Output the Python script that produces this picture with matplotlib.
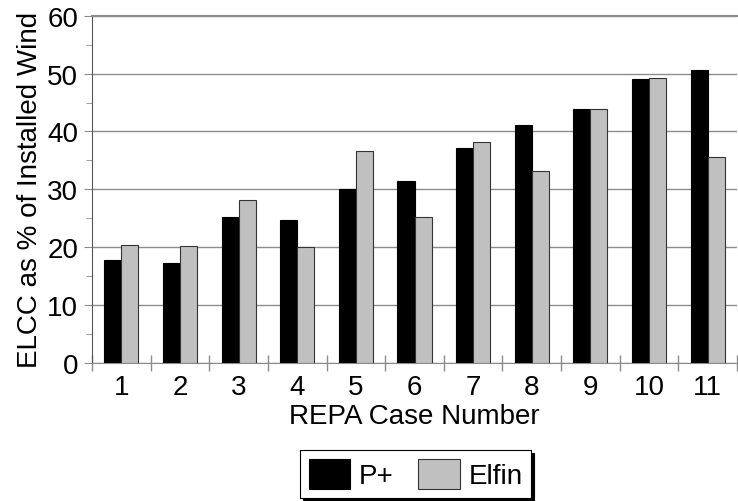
import matplotlib
matplotlib.use("Agg")
import matplotlib.pyplot as plt
import numpy as np

plt.rcParams['font.family'] = ['Liberation Sans', 'DejaVu Sans']

cases = ['1', '2', '3', '4', '5', '6', '7', '8', '9', '10', '11']
p_plus = [17.8, 17.2, 25.3, 24.7, 30.1, 31.4, 37.1, 41.2, 43.9, 49.0, 50.6]
elfin = [20.4, 20.2, 28.1, 20.1, 36.7, 25.3, 38.1, 33.2, 43.9, 49.3, 35.6]

FS = 20

fig = plt.figure(figsize=(7.38, 5.02), dpi=100)
ax = fig.add_axes([92/738, 1-364/502, (737-92)/738, (364-16.7)/502])

x = np.arange(len(cases))
w = 0.29
ax.bar(x - w/2, p_plus, w, color='black', edgecolor='black', linewidth=0.8, label='P+', zorder=3)
ax.bar(x + w/2, elfin, w, color='#c0c0c0', edgecolor='#333333', linewidth=0.8, label='Elfin', zorder=3)

ax.set_xlim(-0.5, len(cases) - 0.5)
ax.set_ylim(0, 60)
ax.set_yticks(np.arange(0, 61, 10))
ax.set_yticks(np.arange(5, 60, 10), minor=True)
ax.yaxis.grid(True, which='major', color='#8c8c8c', linewidth=1.0, zorder=0)
ax.set_axisbelow(True)

ax.set_xticks(x)
ax.set_xticklabels(cases)
ax.set_xticks(np.arange(-0.5, len(cases), 1.0), minor=True)
ax.tick_params(axis='x', which='major', length=0, labelsize=FS, pad=8)
ax.tick_params(axis='x', which='minor', direction='inout', length=12, color='#8c8c8c', width=1)
ax.tick_params(axis='y', which='major', direction='out', length=6, color='#8c8c8c', labelsize=FS, pad=4)
ax.tick_params(axis='y', which='minor', direction='out', length=4, color='#8c8c8c')

ax.spines['right'].set_visible(False)
ax.spines['top'].set_color('#8c8c8c')
ax.spines['top'].set_linewidth(1.5)
ax.spines['left'].set_color('#555555')
ax.spines['bottom'].set_color('#8c8c8c')

ax.set_ylabel('ELCC as % of Installed Wind', fontsize=FS, labelpad=3)
ax.set_xlabel('REPA Case Number', fontsize=FS, labelpad=2)

leg = ax.legend(loc='center', bbox_to_anchor=(415.5/738, 27/502), bbox_transform=fig.transFigure,
                ncol=2, fontsize=FS, frameon=True, fancybox=False, edgecolor='black',
                shadow={'color': 'black', 'alpha': 1.0}, handlelength=1.5, handleheight=1.3,
                borderpad=0.3, columnspacing=0.9, handletextpad=0.3, borderaxespad=0)
leg.get_frame().set_linewidth(0.8)

fig.savefig('out.png', dpi=100)
